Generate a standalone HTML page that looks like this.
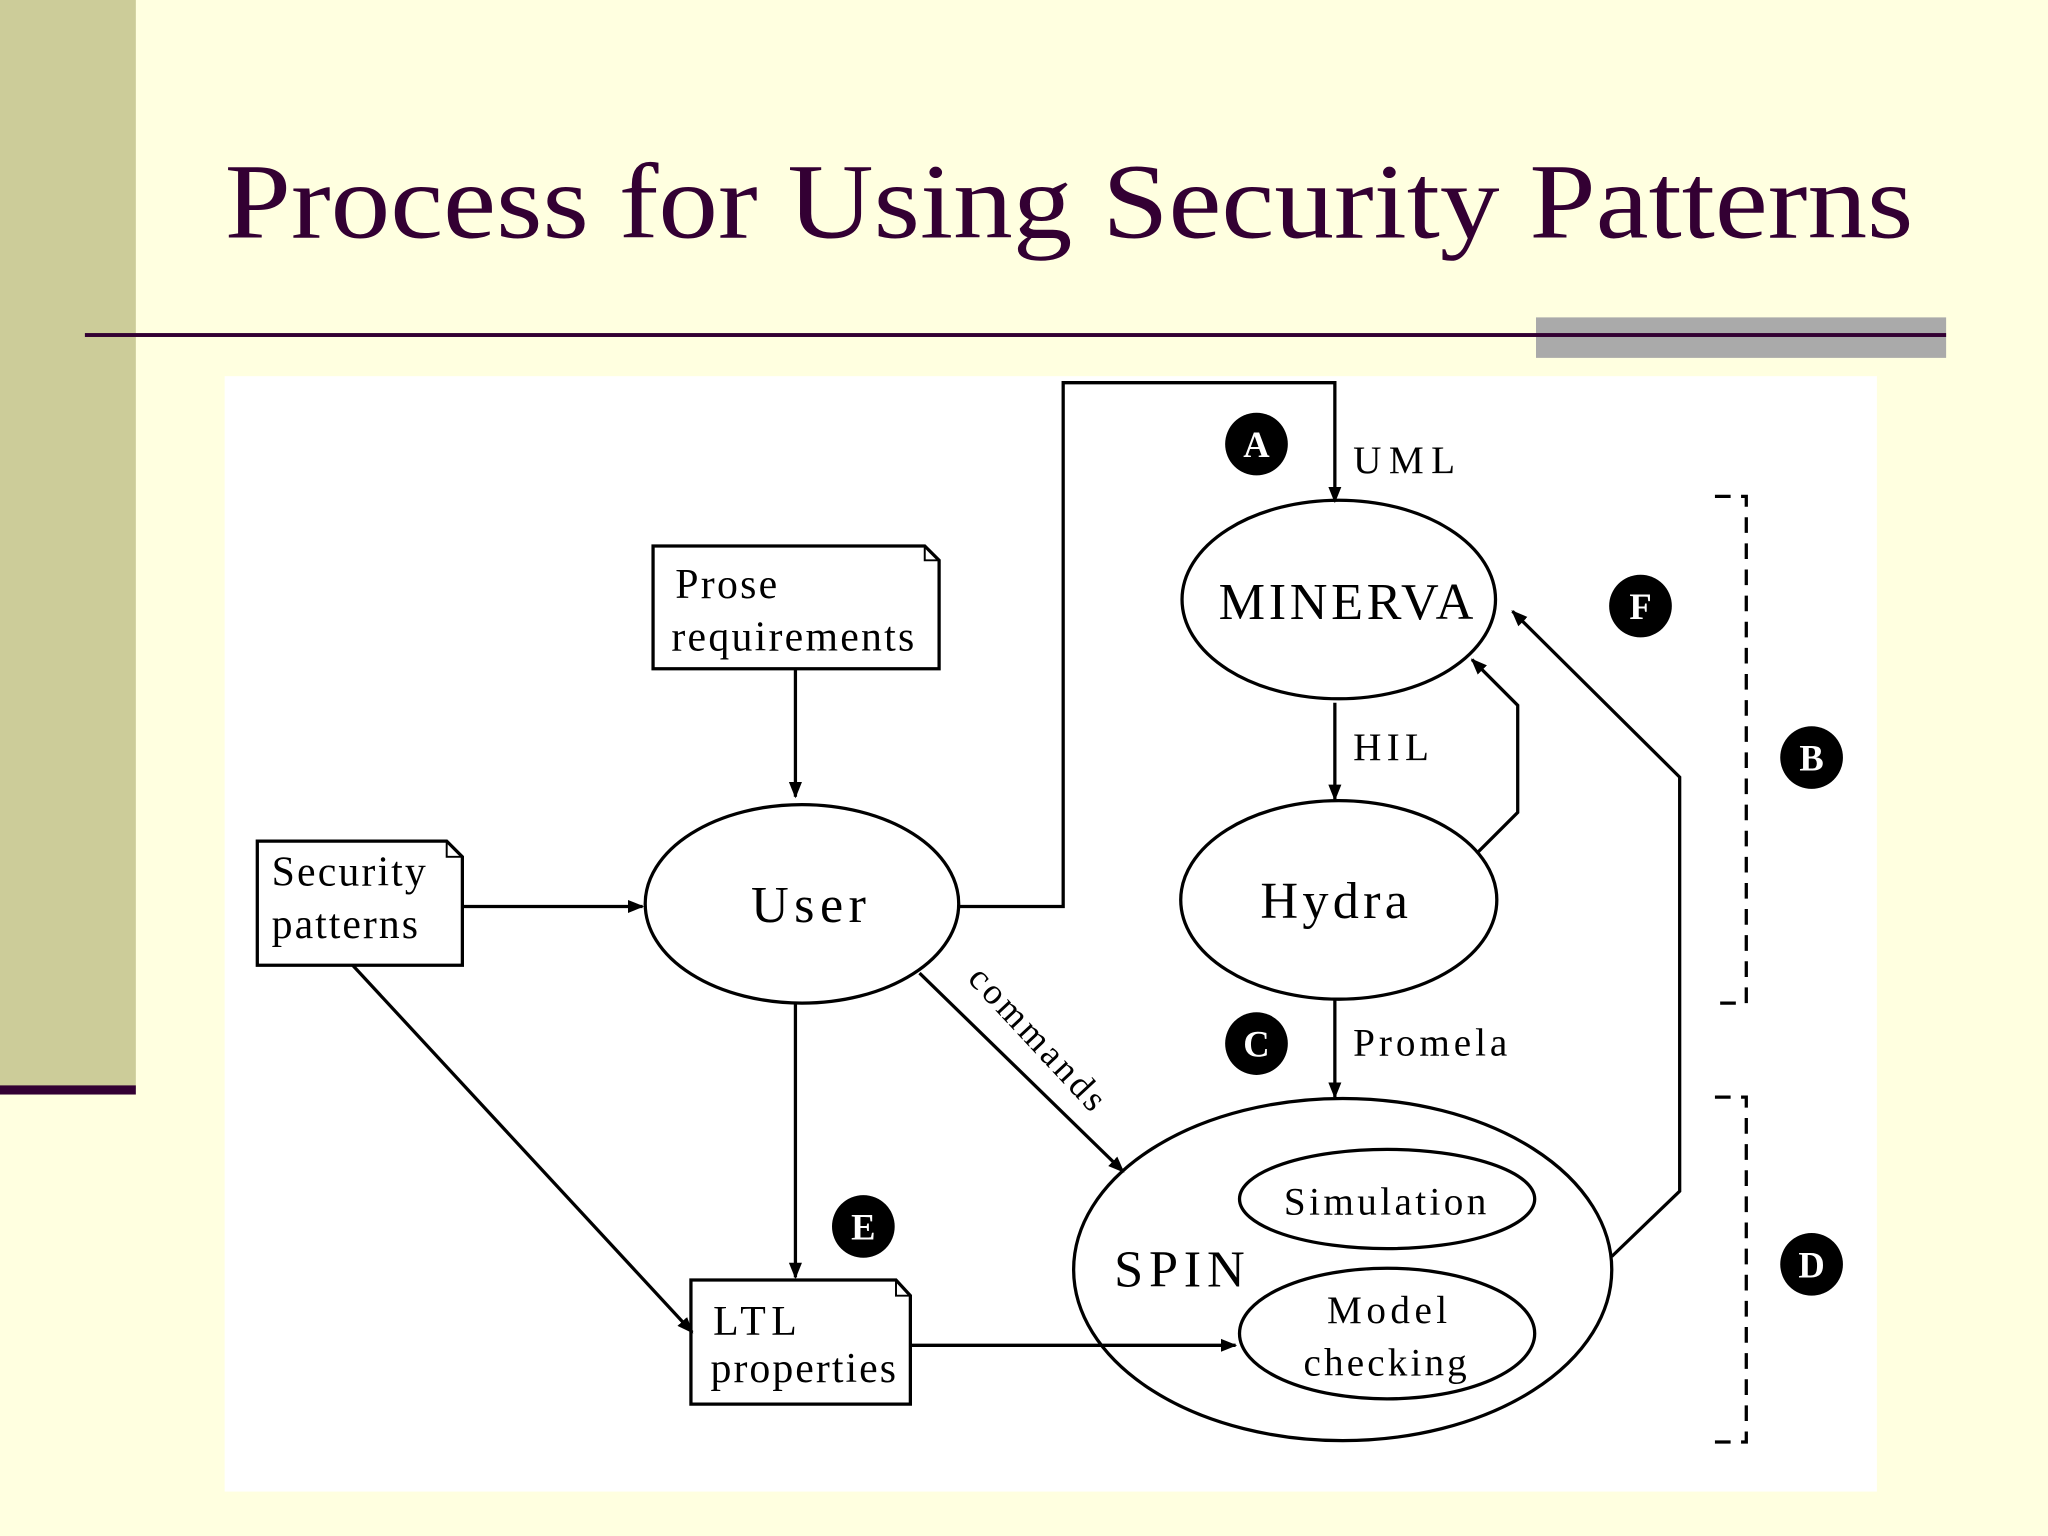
<!DOCTYPE html>
<html><head><meta charset="utf-8"><style>
html,body{margin:0;padding:0;background:#FFFFE0;}
svg{display:block;}
text{font-family:"Liberation Serif",serif;}
</style></head><body>
<svg width="2048" height="1536" viewBox="0 0 1568 1176" xmlns="http://www.w3.org/2000/svg">
<defs>
<marker id="ar" viewBox="0 0 10 10" refX="9" refY="5" markerWidth="5" markerHeight="5" orient="auto"><path d="M0,1 L10,5 L0,9 z" fill="#000"/></marker>
</defs>
<rect width="1568" height="1176" fill="#FFFFE0"/>
<rect x="0" y="0" width="104" height="834" fill="#CCCC99"/>
<rect x="0" y="831" width="104" height="7" fill="#330033"/>
<text x="172" y="182" font-size="82" fill="#330033" textLength="1293" lengthAdjust="spacingAndGlyphs">Process for Using Security Patterns</text>
<rect x="1176" y="243" width="314" height="31" fill="#AAAAAA"/>
<rect x="65" y="255" width="1425" height="3" fill="#330033"/>
<rect x="172" y="288" width="1265" height="854" fill="#FFFFFF"/>
<g fill="none" stroke="#000" stroke-width="2.5">
<path d="M500,418 H708 L719,429 V512 H500 Z"/><path d="M708,418 V429 H719" stroke-width="1.5"/>
<path d="M197,644 H342 L354,656 V739 H197 Z"/><path d="M342,644 V656 H354" stroke-width="1.5"/>
<path d="M529,980 H686 L697,992 V1075 H529 Z"/><path d="M686,980 V992 H697" stroke-width="1.5"/>
<ellipse cx="614" cy="692" rx="120" ry="76"/>
<ellipse cx="1025" cy="459" rx="120" ry="76"/>
<ellipse cx="1025" cy="689" rx="121" ry="76"/>
<ellipse cx="1028" cy="972" rx="206" ry="131"/>
<ellipse cx="1062" cy="918" rx="113" ry="38"/>
<ellipse cx="1062" cy="1021" rx="113" ry="50"/>
<path d="M609,512 V610" marker-end="url(#ar)"/>
<path d="M354,694 H492" marker-end="url(#ar)"/>
<path d="M734,694 H814 V293 H1022 V384" marker-end="url(#ar)"/>
<path d="M1022,538 V612" marker-end="url(#ar)"/>
<path d="M1022,766 V840" marker-end="url(#ar)"/>
<path d="M609,768 V978" marker-end="url(#ar)"/>
<path d="M704,745 L860,897" marker-end="url(#ar)"/>
<path d="M270,739 L530,1020" marker-end="url(#ar)"/>
<path d="M697,1030 L946,1030" marker-end="url(#ar)"/>
<path d="M1234,962 L1286,912 V595 L1158,468" marker-end="url(#ar)"/>
<path d="M1132,652 L1162,622 V540 L1127,505" marker-end="url(#ar)"/>
<path d="M1313,380 H1337 V768 H1313 M1313,840 H1337 V1104 H1313" stroke-dasharray="12,8"/>
</g>
<g fill="#000" font-size="32">
<text x="517" y="458" textLength="78">Prose</text>
<text x="514" y="498" textLength="186">requirements</text>
<text x="208" y="678" textLength="118">Security</text>
<text x="208" y="718" textLength="112">patterns</text>
<text x="546" y="1022" textLength="64">LTL</text>
<text x="544" y="1058" textLength="142">properties</text>
<text x="575" y="706" font-size="40" textLength="88">User</text>
<text x="933" y="474" font-size="40" textLength="195">MINERVA</text>
<text x="965" y="703" font-size="40" textLength="113">Hydra</text>
<text x="853" y="985" font-size="40" textLength="100">SPIN</text>
<text x="983" y="930" font-size="30" textLength="155">Simulation</text>
<text x="1016" y="1013" font-size="30" textLength="92">Model</text>
<text x="998" y="1053" font-size="30" textLength="125">checking</text>
<text x="1036" y="362" font-size="30" textLength="78">UML</text>
<text x="1036" y="582" font-size="30" textLength="58">HIL</text>
<text x="1036" y="808" font-size="30" textLength="118">Promela</text>
<text x="740" y="750" font-size="28" transform="rotate(47 740 750)" textLength="140">commands</text>
</g>
<g font-size="28" font-weight="bold" text-anchor="middle">
<circle cx="962" cy="340" r="24"/><text x="962" y="350" fill="#fff">A</text>
<circle cx="1256" cy="464" r="24"/><text x="1256" y="474" fill="#fff">F</text>
<circle cx="1387" cy="580" r="24"/><text x="1387" y="590" fill="#fff">B</text>
<circle cx="962" cy="799" r="24"/><text x="962" y="809" fill="#fff">C</text>
<circle cx="661" cy="939" r="24"/><text x="661" y="949" fill="#fff">E</text>
<circle cx="1387" cy="968" r="24"/><text x="1387" y="978" fill="#fff">D</text>
</g>
</svg>
</body></html>
